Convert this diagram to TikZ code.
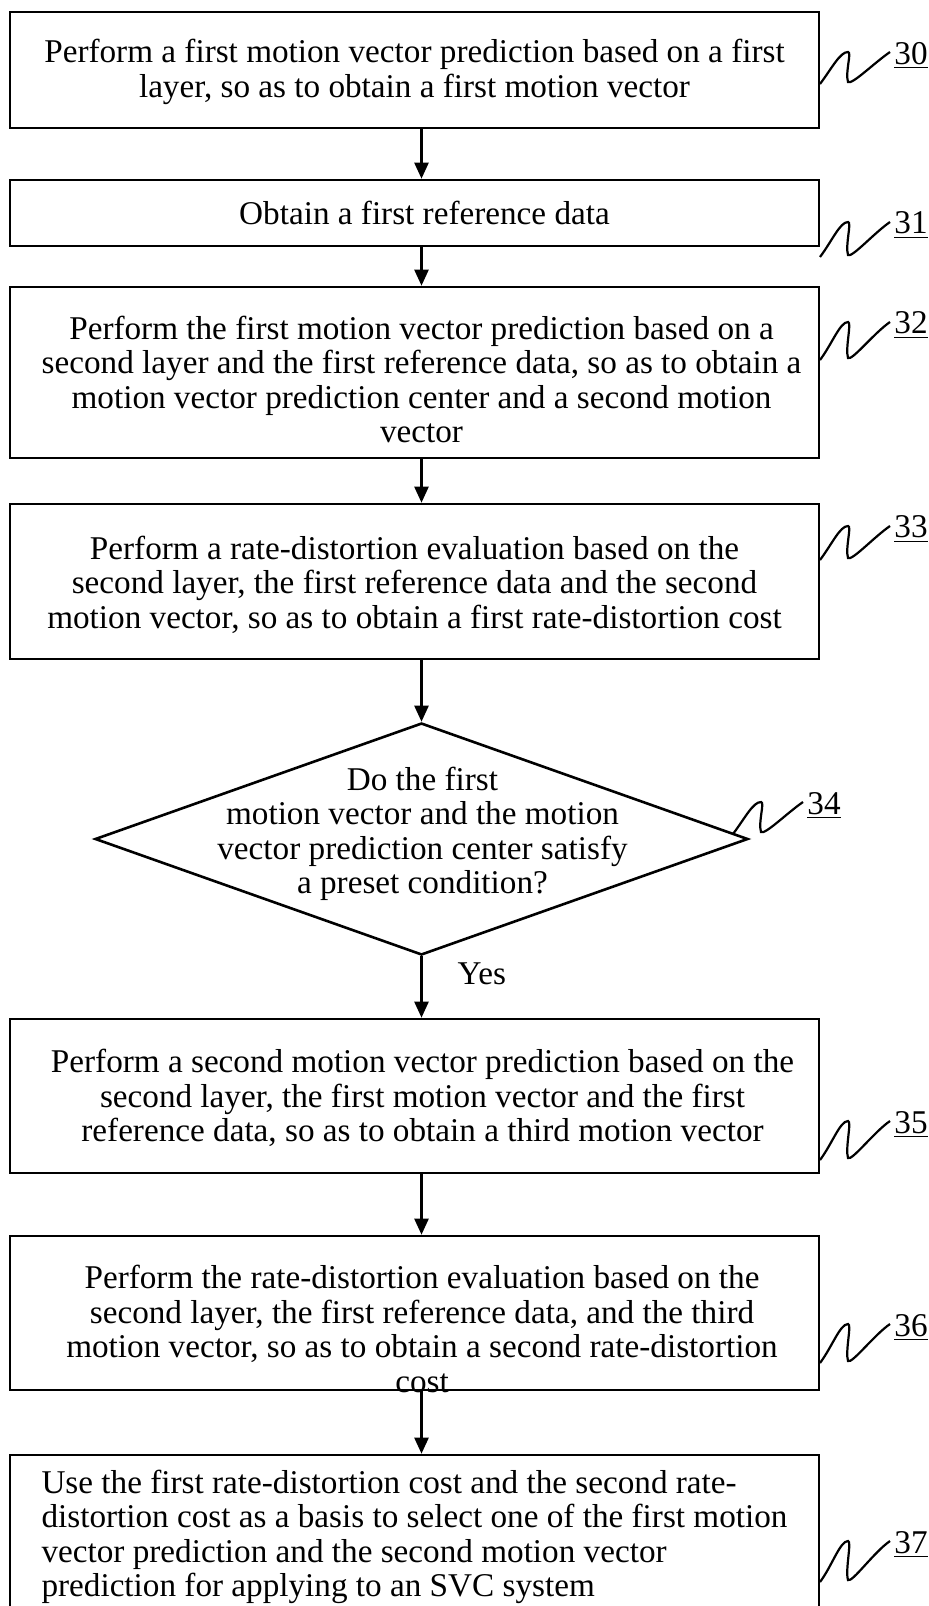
\documentclass[tikz,border=0pt]{standalone}
\usepackage{fontspec}
\setmainfont{Liberation Serif}
\usetikzlibrary{arrows.meta,shapes.geometric}

\begin{document}
\begin{tikzpicture}[x=0.5pt,y=-0.5pt,
  every node/.style={font=\fontsize{16.6}{17.25}\selectfont},
  proc node/.style={draw,line width=1.3pt,minimum width=404.5pt,inner sep=0pt},
  test node/.style={diamond,draw,line width=1.3pt,minimum width=326.5pt,minimum height=116pt,inner sep=0pt},
  txt node/.style={inner sep=0pt,align=center},
  num node/.style={inner sep=0pt,text depth=0pt,anchor=west},
  flow/.style={line width=1.2pt,-{Triangle[length=8pt,width=7pt]}},
  lead/.style={line width=1.1pt}]
  \useasboundingbox (0,0) rectangle (929,1606);

  % frames
  \node[proc node,minimum height=58pt] (b30) at (414.5,70) {};
  \node[proc node,minimum height=33pt] (b31) at (414.5,213) {};
  \node[proc node,minimum height=85.5pt] (b32) at (414.5,372.5) {};
  \node[proc node,minimum height=77.5pt] (b33) at (414.5,581.5) {};
  \node[test node] (d34) at (421.5,839) {};
  \node[proc node,minimum height=77pt] (b35) at (414.5,1096) {};
  \node[proc node,minimum height=77pt] (b36) at (414.5,1313) {};
  \node[proc node,minimum height=85pt] (b37) at (414.5,1540) {};

  % texts
  \node[txt node] (t30) at (414.5,72)
    {Perform a first motion vector prediction based on a first\\layer, so as to obtain a first motion vector};
  \node[txt node] (t31) at (424.5,213) {Obtain a first reference data};
  \node[txt node] (t32) at (421.5,379.5)
    {Perform the first motion vector prediction based on a\\second layer and the first reference data, so as to obtain a\\motion vector prediction center and a second motion\\vector};
  \node[txt node] (t33) at (414.5,584.5)
    {Perform a rate-distortion evaluation based on the\\second layer, the first reference data and the second\\motion vector, so as to obtain a first rate-distortion cost};
  \node[txt node] (t34) at (422.5,834)
    {Do the first\\motion vector and the motion\\vector prediction center satisfy\\a preset condition?};
  \node[txt node] (t35) at (422.5,1098)
    {Perform a second motion vector prediction based on the\\second layer, the first motion vector and the first\\reference data, so as to obtain a third motion vector};
  \node[txt node] (t36) at (422,1329)
    {Perform the rate-distortion evaluation based on the\\second layer, the first reference data, and the third\\motion vector, so as to obtain a second rate-distortion\\cost};
  \node[txt node,align=left] (t37) at (414.5,1537)
    {Use the first rate-distortion cost and the second rate-\\distortion cost as a basis to select one of the first motion\\vector prediction and the second motion vector\\prediction for applying to an SVC system};

  % arrows
  \draw[flow] (b30.south -| d34) -- (b31.north -| d34);
  \draw[flow] (b31.south -| d34) -- (b32.north -| d34);
  \draw[flow] (b32.south -| d34) -- (b33.north -| d34);
  \draw[flow] (b33.south -| d34) -- (d34.north);
  \draw[flow] (d34.south) -- node[pos=0.28,anchor=west,xshift=17.5pt,inner sep=0pt] (yes) {Yes} (b35.north -| d34);
  \draw[flow] (b35.south -| d34) -- (b36.north -| d34);
  \draw[flow] (b36.south -| d34) -- (b37.north -| d34);

  % reference numerals
  \foreach \n/\x/\ys/\ye in {30/820/84/52,31/820/257/222,32/820/360/322,33/820/560/526,
                             34/733/834/802,35/820/1160/1121,36/820/1363/1324,37/820/1582/1541} {
    \coordinate (s\n) at (\x,\ys);
    \node[num node] (n\n) at (\x+74,\ye+1) {\underline{\n}};
    \draw[lead] (s\n) .. controls +(12,-16) and +(-8,0) .. (\x+28,\ye)
      .. controls +(4,0) and +(-3,-10) .. (\x+28,\ys-2)
      .. controls +(4,3) and +(-16,11) .. ([xshift=-2pt,yshift=0.5pt]n\n.west);
  }
\end{tikzpicture}
\end{document}
